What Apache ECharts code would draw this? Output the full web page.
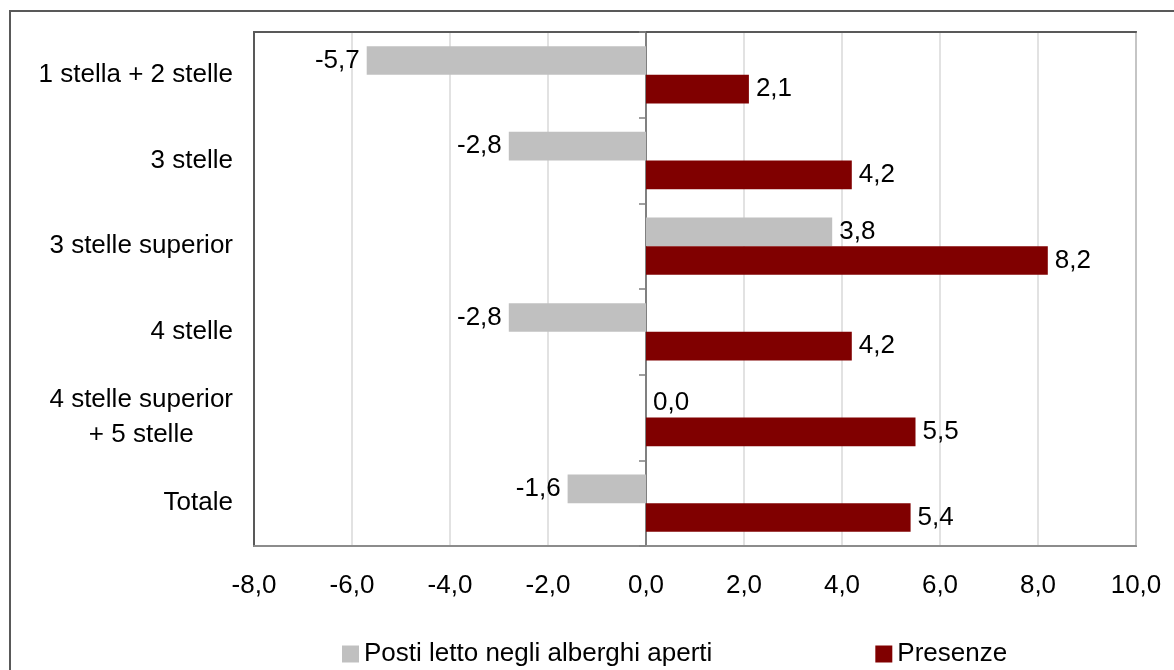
<!DOCTYPE html>
<html>
<head>
<meta charset="utf-8">
<script src="https://cdn.jsdelivr.net/npm/echarts@6/dist/echarts.min.js"></script>
<style>
  html, body { margin: 0; padding: 0; background: #fff; }
  #chart { width: 1174px; height: 670px; }
</style>
</head>
<body>
<div id="chart"></div>
<script>
// Hotel categories (top to bottom)
const categories = [
  '1 stella + 2 stelle',
  '3 stelle',
  '3 stelle superior',
  '4 stelle',
  '4 stelle superior\n+ 5 stelle',
  'Totale'
];
// Percentage changes
const postiLetto = [-5.7, -2.8, 3.8, -2.8, 0.0, -1.6];
const presenze = [2.1, 4.2, 8.2, 4.2, 5.5, 5.4];
const seriesNames = ['Posti letto negli alberghi aperti', 'Presenze'];
const xTicks = { min: -8, max: 10, interval: 2 };

const FONT = 'Liberation Sans, Arial, sans-serif';
const FS = 26;
const fmt = v => v.toFixed(1).replace('.', ',');

function barData(values) {
  return values.map(v => ({
    value: v,
    label: { position: v < 0 ? 'left' : 'right' }
  }));
}

const labelStyle = {
  show: true,
  distance: 7,
  color: '#000',
  fontFamily: FONT,
  fontSize: FS,
  formatter: p => fmt(p.value)
};

const chart = echarts.init(document.getElementById('chart'));
chart.setOption({
  animation: false,
  backgroundColor: '#fff',
  textStyle: { fontFamily: FONT },
  graphic: [{
    type: 'rect',
    shape: { x: 10, y: 11, width: 1400, height: 900 },
    style: { fill: 'none', stroke: '#595959', lineWidth: 2 },
    silent: true
  }],
  grid: {
    left: 254, top: 32, right: 38, bottom: 124,
    show: true, borderColor: '#8c8c8c', borderWidth: 2
  },
  legend: {
    left: 337, top: 636,
    itemWidth: 17, itemHeight: 17, itemGap: 163,
    icon: 'rect',
    textStyle: { fontFamily: FONT, fontSize: FS, color: '#000' },
    data: seriesNames
  },
  xAxis: [{
    type: 'value',
    position: 'bottom',
    min: xTicks.min, max: xTicks.max, interval: xTicks.interval,
    axisLine: { show: true, onZero: false, lineStyle: { color: '#8c8c8c', width: 2 } },
    axisTick: { show: false },
    splitLine: { show: true, lineStyle: { color: '#d9d9d9', width: 1.5 } },
    axisLabel: { margin: 27, fontSize: FS, color: '#000', fontFamily: FONT, formatter: v => fmt(v) }
  }, {
    type: 'value',
    position: 'top',
    min: xTicks.min, max: xTicks.max, interval: xTicks.interval,
    axisLine: { show: true, onZero: false, lineStyle: { color: '#595959', width: 2 } },
    axisTick: { show: false },
    splitLine: { show: false },
    axisLabel: { show: false }
  }],
  yAxis: [{
    type: 'category',
    position: 'left',
    inverse: true,
    data: categories,
    axisLine: { show: true, onZero: false, lineStyle: { color: '#595959', width: 2 } },
    axisTick: { show: false },
    axisLabel: {
      margin: 21,
      color: '#000',
      fontFamily: FONT,
      fontSize: FS,
      lineHeight: 35,
      formatter: v => v.split('\n').map(s => '{c|' + s + '}').join('\n'),
      rich: { c: { align: 'center', fontSize: FS, lineHeight: 35, fontFamily: FONT, color: '#000' } }
    }
  }, {
    type: 'category',
    inverse: true,
    data: categories,
    axisLine: { show: true, onZero: true, lineStyle: { color: '#808080', width: 2 } },
    axisTick: { show: true, inside: true, length: 7, lineStyle: { color: '#808080', width: 1.5 } },
    axisLabel: { show: false },
    splitLine: { show: false }
  }],
  series: [{
    name: seriesNames[0],
    type: 'bar',
    xAxisIndex: 0,
    yAxisIndex: 0,
    data: barData(postiLetto),
    itemStyle: { color: '#c0c0c0' },
    barGap: '0%',
    barCategoryGap: '33%',
    label: labelStyle
  }, {
    name: seriesNames[1],
    type: 'bar',
    xAxisIndex: 0,
    yAxisIndex: 0,
    data: barData(presenze),
    itemStyle: { color: '#800000' },
    barGap: '0%',
    barCategoryGap: '33%',
    label: labelStyle
  }]
});
</script>
</body>
</html>
